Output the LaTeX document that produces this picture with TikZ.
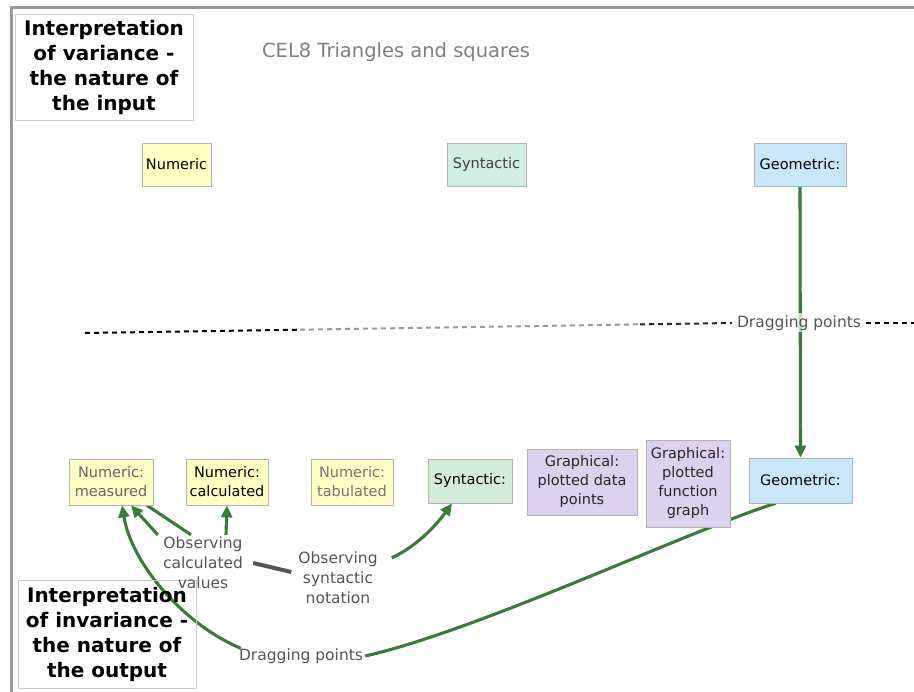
\documentclass[tikz,border=0pt]{standalone}
\usepackage{fontspec}
\setmainfont{DejaVu Sans}
\usetikzlibrary{arrows.meta}
\pgfdeclarelayer{background}
\pgfsetlayers{background,main}

\definecolor{yel}{HTML}{FFFFC4}
\definecolor{grn}{HTML}{D2EEE2}
\definecolor{grnb}{HTML}{D2ECD8}
\definecolor{blu}{HTML}{C8E8FA}
\definecolor{pur}{HTML}{DCD2EE}
\definecolor{edge}{HTML}{B4B4B4}
\definecolor{lnk}{HTML}{3C7A3C}
\definecolor{lbl}{HTML}{555555}
\definecolor{ttl}{HTML}{7F7F7F}

\tikzset{
  box/.style={draw=edge, line width=0.8pt, inner sep=0pt, align=center,
    font=\fontsize{14.5}{19}\selectfont},
  numbox/.style={box, fill=yel},
  synbox/.style={box, fill=grn},
  geobox/.style={box, fill=blu},
  grabox/.style={box, fill=pur, text=black!85},
  hdr/.style={draw=black!20, line width=0.8pt, inner sep=0pt, align=center,
    font=\fontsize{20}{25}\selectfont\bfseries},
  linklabel/.style={text=lbl, align=center, inner sep=2pt,
    font=\fontsize{15.5}{20}\selectfont},
  link/.style={draw=lnk, line width=3.1pt},
  tip/.style={-{Triangle[length=12pt,width=11pt]}},
  divider/.style={line width=2pt, dash pattern=on 5pt off 4pt}
}

\begin{document}
\begin{tikzpicture}[x=1pt,y=-1pt]
\useasboundingbox (0,0) rectangle (914,692);

% outer frame
\draw[black!40, line width=3pt] (11,700) -- (11,8) -- (930,8);

% headings
\node[hdr, minimum width=178, minimum height=106] (variance) at (104,67)
  {Interpretation\\of variance -\\the nature of\\the input};
\node[hdr, minimum width=178, minimum height=108] (invariance) at (107,634)
  {Interpretation\\of invariance -\\the nature of\\the output};
\node[text=ttl, font=\fontsize{19.5}{22}\selectfont] (cel) at (396,52)
  {CEL8 Triangles and squares};

% input types
\node[numbox, minimum width=69, minimum height=43] (numin) at (176.5,164.5) {Numeric};
\node[synbox, minimum width=79, minimum height=43, text=black!75] (synin) at (486.5,164.5) {Syntactic};
\node[geobox, minimum width=92, minimum height=43] (geoin) at (800,164.5) {Geometric:};

% output types
\node[numbox, minimum width=84, minimum height=46, text=black!60] (measured) at (111,482) {Numeric:\\measured};
\node[numbox, minimum width=82, minimum height=46] (calc) at (227,482) {Numeric:\\calculated};
\node[numbox, minimum width=82, minimum height=46, text=black!55] (tab) at (352,482) {Numeric:\\tabulated};
\node[box, fill=grnb, minimum width=84, minimum height=44] (synout) at (470,481) {Syntactic:};
\node[grabox, minimum width=110, minimum height=66] (datapts) at (582,482) {Graphical:\\plotted data\\points};
\node[grabox, minimum width=84, minimum height=87] (fungraph) at (688,483.5) {Graphical:\\plotted\\function\\graph};
\node[geobox, minimum width=103, minimum height=45] (geoout) at (800.5,480.5) {Geometric:};

% link phrases
\node[linklabel, fill=white, fill opacity=0.7, text opacity=1, inner xsep=5pt] (dragtop) at (799,323) {Dragging points};
\node[linklabel] (obscalc) at (203,563) {Observing\\calculated\\values};
\node[linklabel] (obssyn) at (338,578) {Observing\\syntactic\\notation};
\node[linklabel] (dragbot) at (301,656) {Dragging points};

% dividing line between input and output
\draw[divider, black] (85,333) -- (300,329.7);
\draw[divider, black!40] (300,329.7) -- (640,324.4);
\draw[divider, black!85] (640,324.4) -- (dragtop.west);
\draw[divider, black] (dragtop.east) -- (914,323);

\begin{pgfonlayer}{background}
  \fill[white] (0,0) rectangle (914,692);
  \draw[link, tip] (geoin.south) -- (geoout.north);
  \draw[link] ([xshift=-25pt]geoout.south) .. controls (690,530) and (480,630) .. (dragbot.east);
  \draw[link, tip] ([xshift=4pt,yshift=-2pt]dragbot.north west) .. controls (185,625) and (132,565) .. ([xshift=11pt]measured.south);
  \draw[link, tip] ([xshift=-3pt]obscalc.north west) -- ([xshift=20pt]measured.south);
  \draw[link] ([xshift=36pt]measured.south) -- ([xshift=-12pt]obscalc.north);
  \draw[link, tip] ([xshift=23pt]obscalc.north) -- (calc.south);
  \draw[draw=lbl, line width=4pt] ([xshift=8pt]obscalc.east) -- ([xshift=-5pt,yshift=6pt]obssyn.west);
  \draw[link, tip] ([xshift=12pt,yshift=-8pt]obssyn.north east) .. controls (420,545) and (440,520) .. ([xshift=-18pt]synout.south);
\end{pgfonlayer}
\end{tikzpicture}
\end{document}
